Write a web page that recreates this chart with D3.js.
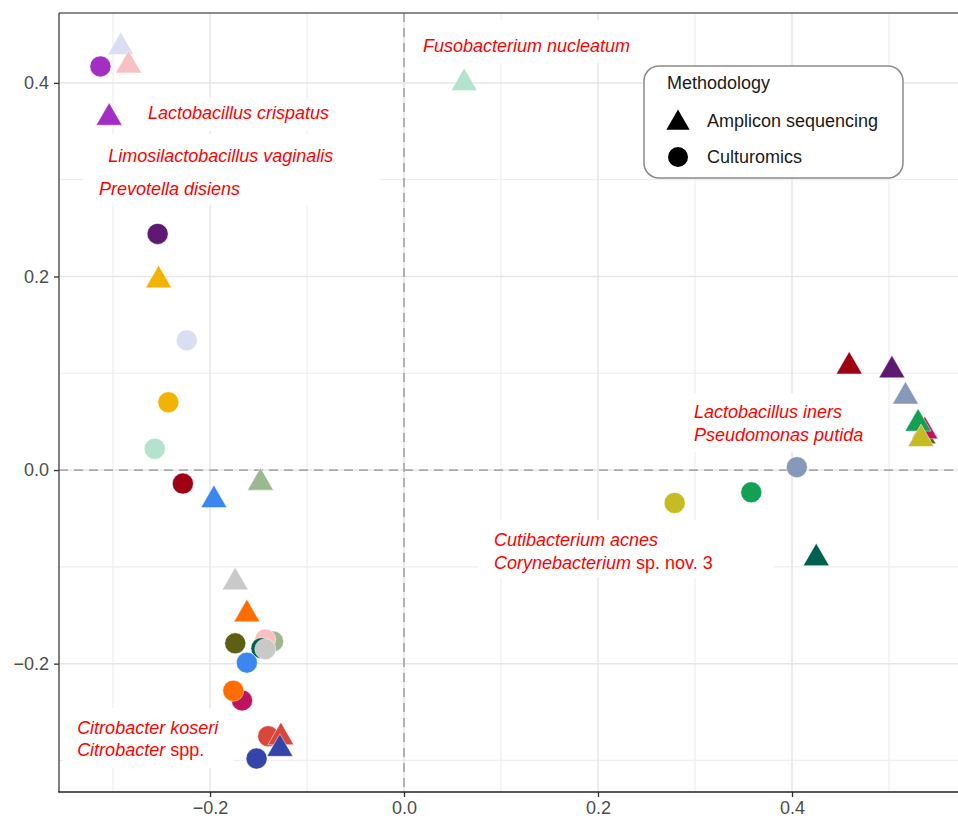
<!DOCTYPE html>
<html>
<head>
<meta charset="utf-8">
<script src="https://cdn.jsdelivr.net/npm/d3@7"></script>
<style>
  html, body { margin: 0; padding: 0; background: #fff; }
  svg { display: block; font-family: "Liberation Sans", Arial, Helvetica, sans-serif; }
</style>
</head>
<body>
<svg id="chart" width="958" height="818"></svg>
<script>
// ---------- data ----------
const groups = ["purple","lavender","pink","darkpurple","gold","mint","darkred","blue","sage","gray",
                "orange","olive","teal","magenta","tomato","darkblue","bluegray","green","yellowolive"];
const groupColors = ["#A22EC4","#D9DEF2","#F9C0C2","#5E1A72","#F2B400","#B3E2CD","#A00014","#3C87EF","#9CB88F","#C9C9C9",
                     "#FF6D00","#5E5E15","#00604F","#C0135F","#D9473A","#3444A8","#8799B9","#12A053","#C4BC22"];

const methods = ["Amplicon sequencing", "Culturomics"];

// Culturomics (circles)
const circleGroups = ["purple","darkpurple","lavender","gold","mint","darkred","olive","sage","pink","teal",
                      "gray","blue","magenta","orange","tomato","darkblue","yellowolive","green","bluegray"];
const circleX = [-0.313,-0.254,-0.224,-0.243,-0.257,-0.228,-0.174,-0.135,-0.143,-0.147,
                 -0.143,-0.162,-0.167,-0.176,-0.140,-0.152,0.279,0.358,0.405];
const circleY = [0.417,0.244,0.134,0.070,0.022,-0.014,-0.179,-0.177,-0.175,-0.184,
                 -0.185,-0.199,-0.238,-0.228,-0.275,-0.298,-0.034,-0.023,0.003];

// Amplicon sequencing (triangles)
const triGroups = ["lavender","pink","purple","gold","blue","sage","gray","orange","tomato","darkblue",
                   "mint","teal","darkred","darkpurple","bluegray","olive","magenta","green","yellowolive"];
const triX = [-0.292,-0.284,-0.304,-0.253,-0.196,-0.148,-0.174,-0.162,-0.127,-0.128,
              0.062,0.425,0.459,0.503,0.517,0.535,0.537,0.530,0.533];
const triY = [0.437,0.418,0.364,0.196,-0.031,-0.013,-0.116,-0.149,-0.276,-0.288,
              0.400,-0.091,0.107,0.103,0.076,0.035,0.040,0.048,0.032];

const tickValues = [-0.2, 0.0, 0.2, 0.4];
const minorValues = [-0.3, -0.1, 0.1, 0.3, 0.5];

// annotation labels: [italic part, plain part]
const labelTexts = [
  ["Fusobacterium nucleatum", ""],
  ["Lactobacillus crispatus", ""],
  ["Limosilactobacillus vaginalis", ""],
  ["Prevotella disiens", ""],
  ["Lactobacillus iners", ""],
  ["Pseudomonas putida", ""],
  ["Cutibacterium acnes", ""],
  ["Corynebacterium", " sp. nov. 3"],
  ["Citrobacter koseri", ""],
  ["Citrobacter", " spp."]
];
const labelX = [0.0196,-0.264,-0.305,-0.3144,0.299,0.299,0.0928,0.0928,-0.337,-0.337];
const labelY = [0.438,0.369,0.325,0.291,0.060,0.037,-0.0723,-0.096,-0.2665,-0.289];

// ---------- layout ----------
const svg = d3.select("#chart");
const W = 958, H = 818;
const panel = {left: 59, top: 13, right: 960, bottom: 792};

const x = d3.scaleLinear().domain([-0.3557, 0.5732]).range([panel.left, panel.right]);
const y = d3.scaleLinear().domain([-0.3326, 0.4722]).range([panel.bottom, panel.top]);

svg.append("rect").attr("width", W).attr("height", H).attr("fill", "#fff");

const colorOf = g => groupColors[groups.indexOf(g)];

// grid
const grid = svg.append("g");
grid.selectAll(".vminor").data(minorValues).join("line")
  .attr("x1", d => x(d)).attr("x2", d => x(d))
  .attr("y1", panel.top).attr("y2", panel.bottom)
  .attr("stroke", "#EEEEEE").attr("stroke-width", 1.2);
grid.selectAll(".hminor").data(minorValues).join("line")
  .attr("y1", d => y(d)).attr("y2", d => y(d))
  .attr("x1", panel.left).attr("x2", W)
  .attr("stroke", "#EEEEEE").attr("stroke-width", 1.2);
grid.selectAll(".vmajor").data(tickValues).join("line")
  .attr("x1", d => x(d)).attr("x2", d => x(d))
  .attr("y1", panel.top).attr("y2", panel.bottom)
  .attr("stroke", "#E6E6E6").attr("stroke-width", 1.5);
grid.selectAll(".hmajor").data(tickValues).join("line")
  .attr("y1", d => y(d)).attr("y2", d => y(d))
  .attr("x1", panel.left).attr("x2", W)
  .attr("stroke", "#E6E6E6").attr("stroke-width", 1.5);

// white label boxes (data coords: x0, x1, yTop, yBottom)
const labelBoxes = [
  [0.0062, 0.254, 0.4649, 0.4205],
  [-0.2825, -0.0557, 0.3843, 0.3502],
  [-0.3309, -0.0247, 0.3471, 0.2738],
  [0.2845, 0.4907, 0.0795, 0.0186],
  [0.0763, 0.3804, -0.0517, -0.1116],
  [-0.3515, -0.1763, -0.2459, -0.3079]
];
svg.append("g").selectAll("rect").data(labelBoxes).join("rect")
  .attr("x", d => x(d[0])).attr("y", d => y(d[2]))
  .attr("width", d => x(d[1]) - x(d[0])).attr("height", d => y(d[3]) - y(d[2]))
  .attr("fill", "#fff");

// zero dashed lines
svg.append("line")
  .attr("x1", x(0)).attr("x2", x(0)).attr("y1", panel.top).attr("y2", panel.bottom)
  .attr("stroke", "#ABABAB").attr("stroke-width", 1.8).attr("stroke-dasharray", "9,6");
svg.append("line")
  .attr("y1", y(0)).attr("y2", y(0)).attr("x1", panel.left).attr("x2", W)
  .attr("stroke", "#ABABAB").attr("stroke-width", 1.8).attr("stroke-dasharray", "9,6");

// points
const circles = circleGroups.map((g, i) => ({g, x: circleX[i], y: circleY[i]}));
const tris = triGroups.map((g, i) => ({g, x: triX[i], y: triY[i]}));

svg.append("g").selectAll("circle").data(circles).join("circle")
  .attr("cx", d => x(d.x)).attr("cy", d => y(d.y)).attr("r", 10.5)
  .attr("fill", d => colorOf(d.g))
  .attr("stroke", "#fff").attr("stroke-opacity", 0.6).attr("stroke-width", 0.8);

const triPath = d3.symbol().type(d3.symbolTriangle).size(292)();
svg.append("g").selectAll("path").data(tris).join("path")
  .attr("d", triPath)
  .attr("transform", d => `translate(${x(d.x)},${y(d.y)})`)
  .attr("fill", d => colorOf(d.g))
  .attr("stroke", "#fff").attr("stroke-opacity", 0.6).attr("stroke-width", 0.8);

// labels
const lab = svg.append("g").attr("font-size", 18).attr("fill", "#FF0000");
labelTexts.forEach((t, i) => {
  const tx = lab.append("text")
    .attr("x", x(labelX[i])).attr("y", y(labelY[i]))
    .attr("dy", "0.35em");
  tx.append("tspan").attr("font-style", "italic").text(t[0]);
  if (t[1]) tx.append("tspan").text(t[1]);
});

// panel border / axes
svg.append("line").attr("x1", panel.left).attr("x2", W).attr("y1", panel.top).attr("y2", panel.top)
  .attr("stroke", "#666").attr("stroke-width", 1.5);
svg.append("line").attr("x1", panel.left).attr("x2", panel.left).attr("y1", panel.top).attr("y2", panel.bottom)
  .attr("stroke", "#555").attr("stroke-width", 1.5);

const fmt = d3.format(".1f");
const xAxis = svg.append("g").attr("transform", `translate(0,${panel.bottom})`)
  .call(d3.axisBottom(x).tickValues(tickValues).tickFormat(fmt).tickSize(5).tickPadding(4));
const yAxis = svg.append("g").attr("transform", `translate(${panel.left},0)`)
  .call(d3.axisLeft(y).tickValues(tickValues).tickFormat(fmt).tickSize(5).tickPadding(5));
[xAxis, yAxis].forEach(a => {
  a.select(".domain").remove();
  a.selectAll(".tick line").attr("stroke", "#333").attr("stroke-width", 1.3);
  a.selectAll(".tick text").attr("font-size", 18).attr("fill", "#4D4D4D")
    .attr("font-family", "'Liberation Sans', Arial, Helvetica, sans-serif");
});
svg.append("line").attr("x1", panel.left - 0.75).attr("x2", W).attr("y1", panel.bottom).attr("y2", panel.bottom)
  .attr("stroke", "#222").attr("stroke-width", 1.6);

// legend
const lg = svg.append("g");
lg.append("rect").attr("x", 644).attr("y", 66).attr("width", 259).attr("height", 112)
  .attr("rx", 15).attr("ry", 15)
  .attr("fill", "#fff").attr("stroke", "#8A8A8A").attr("stroke-width", 1.5);
lg.append("text").attr("x", 667).attr("y", 83).attr("dy", "0.35em")
  .attr("font-size", 18).attr("fill", "#1a1a1a").text("Methodology");
const legendRows = lg.selectAll(".row").data(methods).join("g")
  .attr("transform", (d, i) => `translate(678,${i === 0 ? 121 : 157})`);
legendRows.each(function(d) {
  const g = d3.select(this);
  if (d === "Amplicon sequencing") {
    g.append("path").attr("d", d3.symbol().type(d3.symbolTriangle).size(235)())
      .attr("transform", "translate(0,2)").attr("fill", "#000");
  } else {
    g.append("circle").attr("r", 10).attr("fill", "#000");
  }
  g.append("text").attr("x", 29).attr("dy", "0.35em")
    .attr("font-size", 18).attr("fill", "#1a1a1a").text(d);
});
</script>
</body>
</html>
